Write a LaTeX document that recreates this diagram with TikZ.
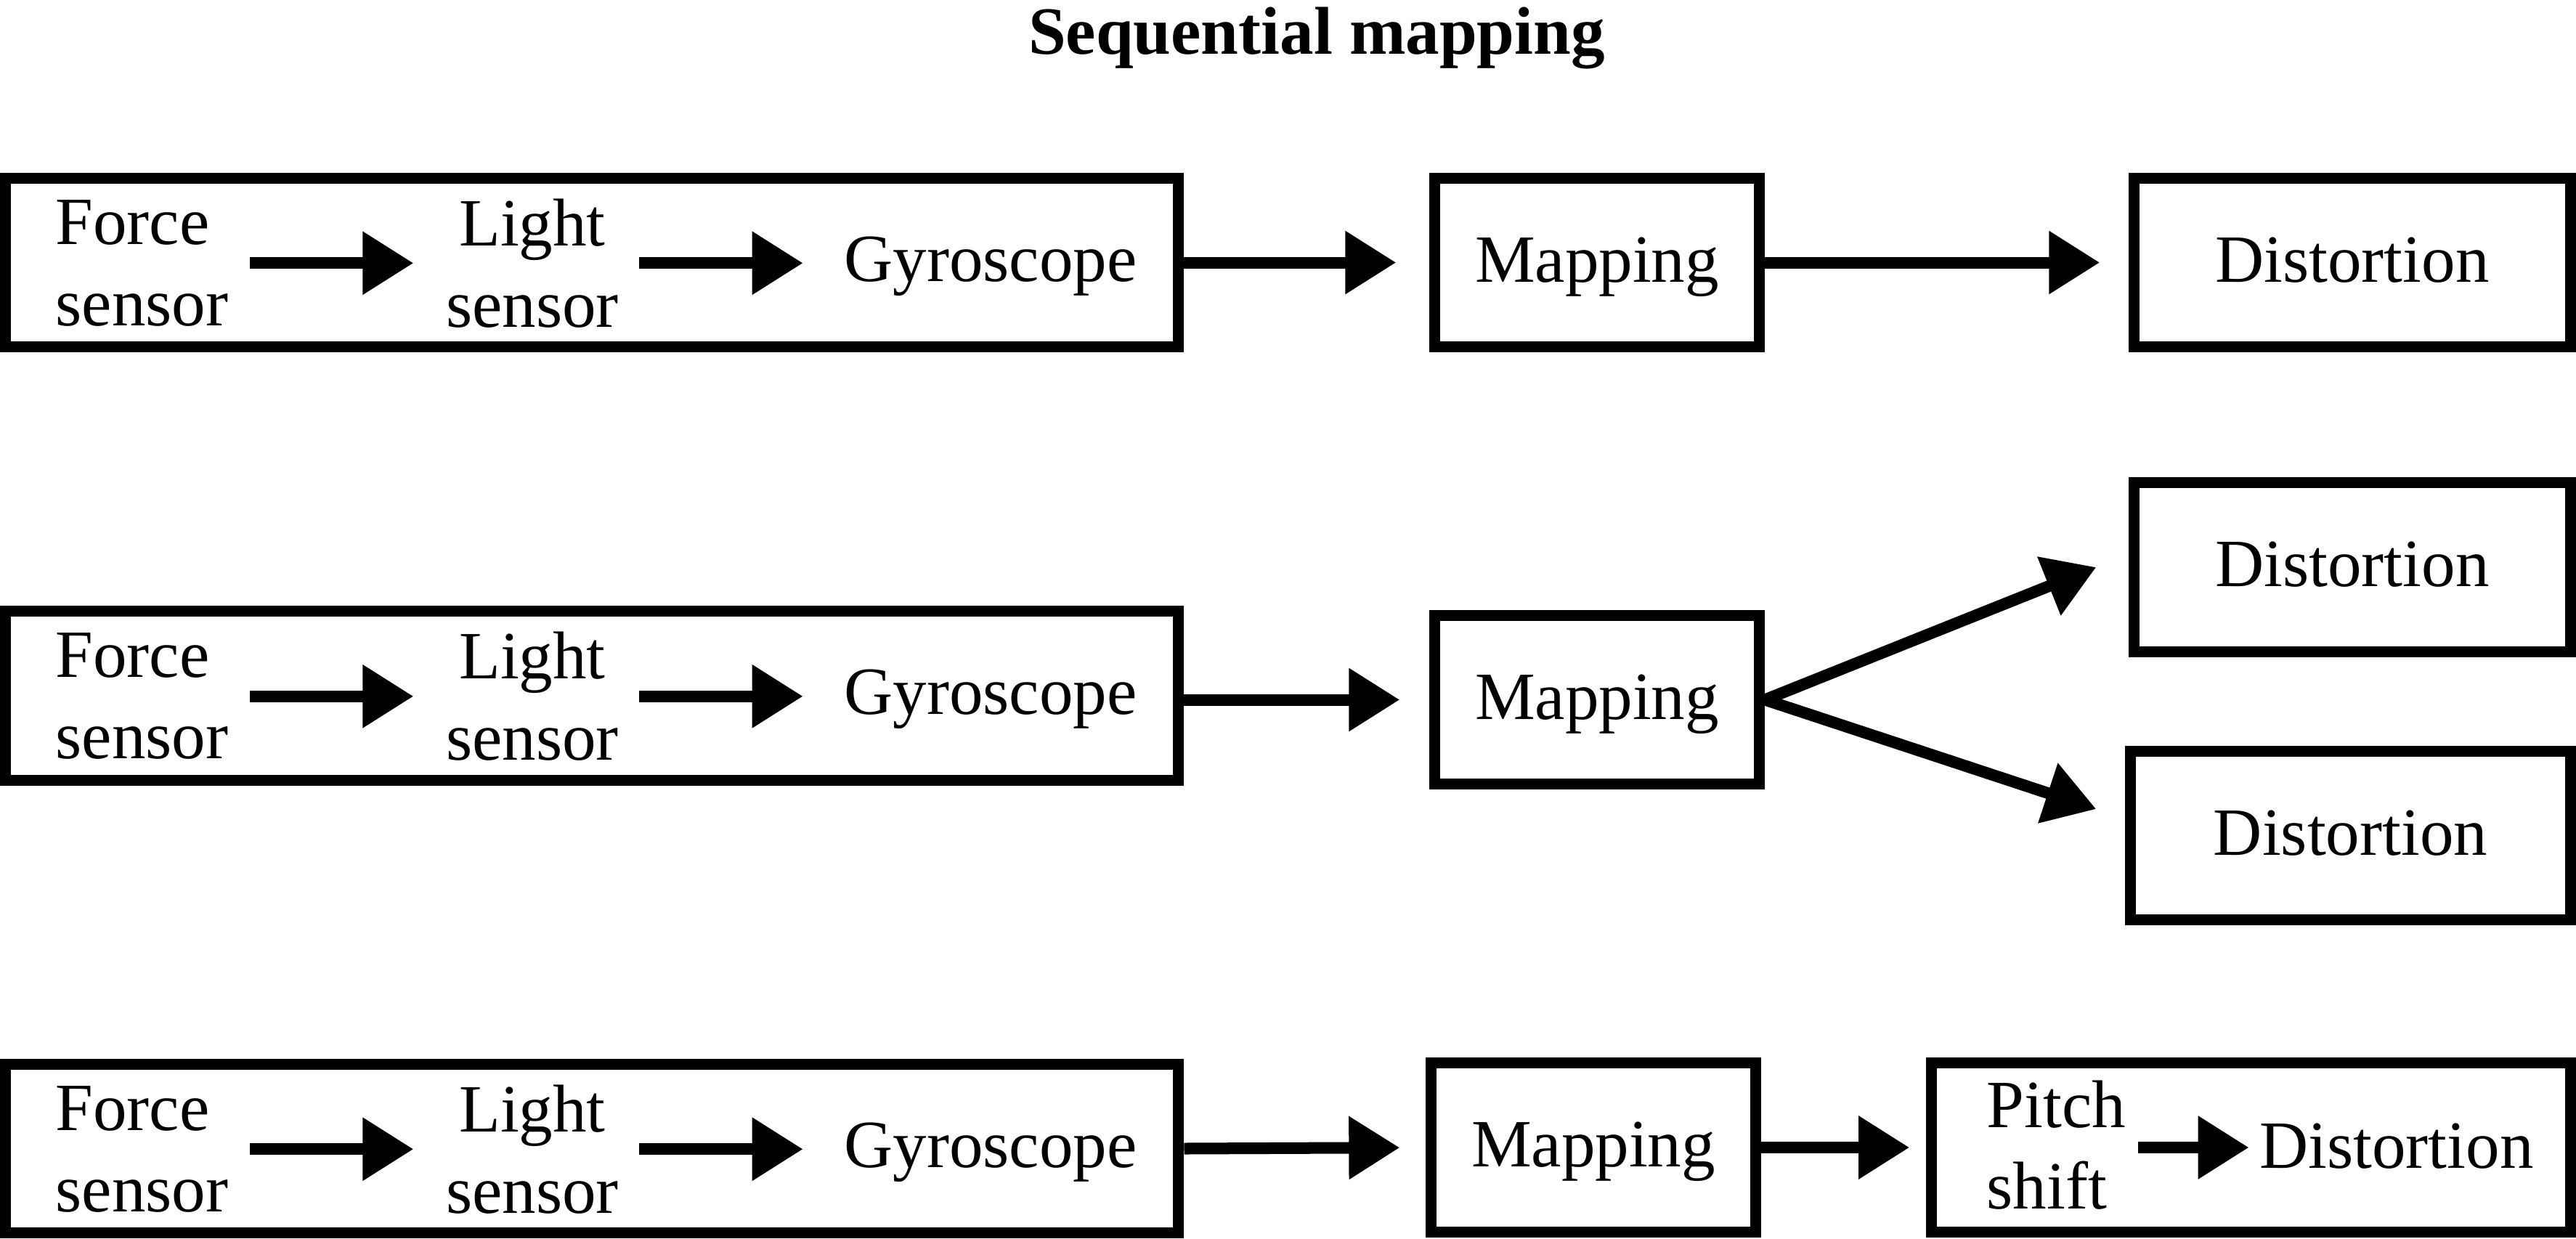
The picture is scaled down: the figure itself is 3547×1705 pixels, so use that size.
\documentclass[tikz,border=0pt]{standalone}
\usepackage{fontspec}
\setmainfont{Liberation Serif}
\usetikzlibrary{arrows.meta,calc}
\begin{document}
\begin{tikzpicture}[x=0.01cm,y=-0.01cm,
  txt/.style={font=\fontsize{26.46pt}{31.9pt}\selectfont, inner sep=0pt},
  box/.style={txt, draw, line width=0.15cm, minimum height=2.32cm,
              text height=0.64cm, text depth=0.11cm},
  arr/.style={line width=0.16cm, -{Triangle[length=0.70cm,width=0.83cm]}},
]
\useasboundingbox (0,0) rectangle (3547,1705);

% title
\node[txt, font=\fontsize{26.46pt}{31.9pt}\selectfont\bfseries, anchor=base]
  (title) at (1813,74) {Sequential mapping};

% sensor chains
\foreach \r/\cy in {1/361.5, 2/958, 3/1581.5}{
  \node[box, minimum width=16.15cm] (A\r) at (815,\cy) {};
  \node[txt, align=left, anchor=west] (f\r) at (76,\cy+0.75) {Force\\sensor};
  \node[txt, align=center] (l\r) at (733,\cy+0.75) {Light\\sensor};
  \node[txt, anchor=base] (g\r) at (1364,\cy+25.5) {Gyroscope};
  \draw[arr, shorten <=0.29cm, shorten >=0.44cm] (f\r.east) -- (l\r.west |- f\r.east);
  \draw[arr, shorten <=0.27cm, shorten >=0.56cm] (l\r.east) -- (g\r.west |- l\r.east);
}

% row 1
\node[box, minimum width=4.47cm] (M1) at (2199,361.5) {Mapping};
\node[box, minimum width=6.01cm] (D1) at (3239,361.5) {Distortion};
\draw[arr, shorten >=0.455cm] (A1.east) -- (M1.west);
\draw[arr, shorten >=0.395cm] (M1.east) -- (D1.west);

% row 2
\node[box, minimum width=4.47cm] (M2) at (2199,963.5) {Mapping};
\node[box, minimum width=6.01cm] (D2a) at (3239,781) {Distortion};
\node[box, minimum width=6.06cm] (D2b) at (3236.5,1150.5) {Distortion};
\draw[arr, shorten >=0.405cm] (A2.east |- M2.west) -- (M2.west);
\draw[arr] (M2.east) -- ($(D2a.west)+(-44.5,0)$);
\draw[arr] (M2.east) -- ($(D2b.west)+(-39.5,-36.5)$);

% row 3
\node[box, minimum width=4.47cm] (M3) at (2194,1580) {Mapping};
\node[box, minimum width=8.80cm] (PD3) at (3099.5,1580) {};
\node[txt, align=left, anchor=west] (p3) at (2735,1577) {Pitch\\shift};
\node[txt, anchor=base] (d3) at (3300,1608) {Distortion};
\draw[arr, shorten >=0.355cm] (A3.east) -- (M3.west);
\draw[arr, shorten >=0.225cm] (M3.east) -- (PD3.west);
\draw[arr, shorten <=0.16cm, shorten >=0.14cm] (p3.east |- PD3.west) -- (d3.west |- PD3.west);
\end{tikzpicture}
\end{document}
